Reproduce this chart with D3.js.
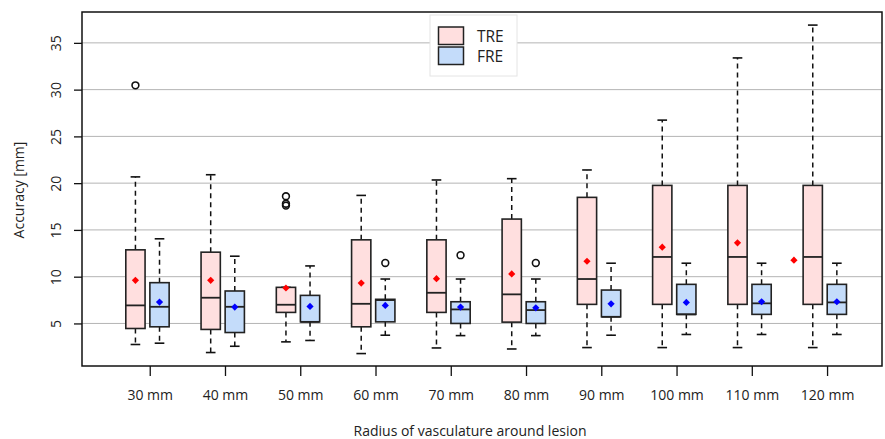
<!DOCTYPE html>
<html>
<head>
<meta charset="utf-8">
<script src="https://cdn.jsdelivr.net/npm/d3@7"></script>
<style>
  body { margin: 0; background: #fff; }
  svg { display: block; font-family: "Open Sans", sans-serif; }
</style>
</head>
<body>
<svg width="885" height="439"></svg>
<script>
const categories = ["30 mm", "40 mm", "50 mm", "60 mm", "70 mm", "80 mm", "90 mm", "100 mm", "110 mm", "120 mm"]
const yTicks = [5, 10, 15, 20, 25, 30, 35]

// TRE boxes
const treLow  = [2.75, 1.89, 3.03, 1.78, 2.38, 2.27, 2.42, 2.42, 2.42, 2.42]
const treQ1   = [4.46, 4.36, 6.18, 4.64, 6.18, 5.14, 7.04, 7.04, 7.04, 7.04]
const treMed  = [6.93, 7.75, 7.0, 7.1, 8.28, 8.11, 9.75, 12.11, 12.11, 12.11]
const treQ3   = [12.87, 12.62, 8.86, 13.94, 13.94, 16.16, 18.48, 19.76, 19.76, 19.76]
const treHigh = [20.67, 20.9, 8.86, 18.69, 20.34, 20.48, 21.41, 26.74, 33.39, 36.9]
const treMean = [9.61, 9.61, 8.79, 9.32, 9.79, 10.29, 11.65, 13.15, 13.62, 11.76]
const treOut  = [[30.46], [], [18.6, 17.8, 17.6], [], [], [], [], [], [], []]

// FRE boxes
const freLow  = [2.89, 2.56, 3.18, 3.74, 3.7, 3.7, 3.74, 3.82, 3.82, 3.82]
const freQ1   = [4.64, 4.03, 5.17, 5.17, 5.0, 5.0, 5.71, 5.97, 5.97, 5.97]
const freMed  = [6.78, 6.78, 5.17, 7.5, 6.5, 6.43, 5.71, 5.97, 7.15, 7.25]
const freQ3   = [9.36, 8.47, 8.0, 7.58, 7.32, 7.32, 8.57, 9.18, 9.18, 9.18]
const freHigh = [14.05, 12.19, 11.15, 9.75, 9.75, 9.75, 11.44, 11.44, 11.44, 11.44]
const freMean = [7.29, 6.75, 6.82, 6.93, 6.75, 6.67, 7.1, 7.25, 7.32, 7.32]
const freOut  = [[], [], [], [11.47], [12.3], [11.47], [], [], [], []]

const pL = 82, pR = 882, pT = 12, pB = 366

const svg = d3.select("svg")

const x = d3.scaleLinear().domain([-0.9, 9.73]).range([pL, pR])
const y = d3.scaleLinear().domain([0.45, 38.3]).range([pB, pT])

// grid
svg.append("g")
    .selectAll("line")
    .data(yTicks)
    .enter()
    .append("line")
    .attr("x1", pL).attr("x2", pR)
    .attr("y1", d => y(d)).attr("y2", d => y(d))
    .attr("stroke", "#b4b4b4")
    .attr("stroke-width", 1)

const series = [
    {name: "TRE", off: -0.19, fill: "#ffdfdf", dot: "#ff0000",
     low: treLow, q1: treQ1, med: treMed, q3: treQ3, high: treHigh, mean: treMean, out: treOut},
    {name: "FRE", off: 0.13, fill: "#c4dcfa", dot: "#0000ff",
     low: freLow, q1: freQ1, med: freMed, q3: freQ3, high: freHigh, mean: freMean, out: freOut}
]

const hw = 0.128  // half box width in category units

series.forEach(s => {
    const rows = categories.map((c, i) => ({
        i, c, low: s.low[i], q1: s.q1[i], med: s.med[i], q3: s.q3[i],
        high: s.high[i], mean: s.mean[i], out: s.out[i]
    }))
    const g = svg.append("g")
    const b = g.selectAll("g").data(rows).enter().append("g")

    // whiskers
    b.append("line")
        .attr("x1", d => x(d.i + s.off)).attr("x2", d => x(d.i + s.off))
        .attr("y1", d => y(d.q3)).attr("y2", d => y(d.high))
        .attr("stroke", "#111").attr("stroke-width", 1.5).attr("stroke-dasharray", "5,4")
    b.append("line")
        .attr("x1", d => x(d.i + s.off)).attr("x2", d => x(d.i + s.off))
        .attr("y1", d => y(d.q1)).attr("y2", d => y(d.low))
        .attr("stroke", "#111").attr("stroke-width", 1.5).attr("stroke-dasharray", "5,4")
    ;["high", "low"].forEach(k => {
        b.append("line")
            .attr("x1", d => x(d.i + s.off - hw / 2)).attr("x2", d => x(d.i + s.off + hw / 2))
            .attr("y1", d => y(d[k])).attr("y2", d => y(d[k]))
            .attr("stroke", "#111").attr("stroke-width", 1.6)
    })

    // box
    b.append("rect")
        .attr("x", d => x(d.i + s.off - hw))
        .attr("width", d => x(d.i + s.off + hw) - x(d.i + s.off - hw))
        .attr("y", d => y(d.q3))
        .attr("height", d => y(d.q1) - y(d.q3))
        .attr("fill", s.fill)
        .attr("stroke", "#222")
        .attr("stroke-width", 1.6)
    b.append("line")
        .attr("x1", d => x(d.i + s.off - hw)).attr("x2", d => x(d.i + s.off + hw))
        .attr("y1", d => y(d.med)).attr("y2", d => y(d.med))
        .attr("stroke", "#222").attr("stroke-width", 1.8)

    // outliers
    b.selectAll("circle")
        .data(d => d.out.map(v => ({i: d.i, v})))
        .enter()
        .append("circle")
        .attr("cx", d => x(d.i + s.off))
        .attr("cy", d => y(d.v))
        .attr("r", 3.4)
        .attr("fill", "none")
        .attr("stroke", "#111")
        .attr("stroke-width", 1.6)

    // means (the 120 mm TRE mean sits left of its box in the original)
    b.append("path")
        .attr("d", d3.symbol(d3.symbolSquare, 26))
        .attr("transform", d => {
            const sh = (s.name === "TRE" && d.c === "120 mm") ? -0.25 : 0
            return `translate(${x(d.i + s.off + sh)},${y(d.mean)}) rotate(45)`
        })
        .attr("fill", s.dot)
})

// frame
svg.append("rect")
    .attr("x", pL).attr("y", pT)
    .attr("width", pR - pL).attr("height", pB - pT)
    .attr("fill", "none").attr("stroke", "#111").attr("stroke-width", 1.5)

// y axis
const yAxis = svg.append("g")
    .attr("transform", `translate(${pL},0)`)
    .call(d3.axisLeft(y).tickValues(yTicks).tickSize(8).tickSizeOuter(0))
yAxis.select(".domain").remove()
yAxis.selectAll(".tick line").attr("stroke", "#111").attr("stroke-width", 1.3)
yAxis.selectAll(".tick text")
    .attr("x", 0).attr("dy", 0)
    .attr("transform", "translate(-21,0) rotate(-90)")
    .attr("text-anchor", "middle")
    .attr("font-size", 14)
    .attr("font-family", "Open Sans, sans-serif")
    .attr("fill", "#222")

// x axis
const xAxis = svg.append("g")
    .attr("transform", `translate(0,${pB})`)
    .call(d3.axisBottom(x).tickValues(d3.range(categories.length))
        .tickFormat(i => categories[i]).tickSize(10).tickSizeOuter(0))
xAxis.select(".domain").remove()
xAxis.selectAll(".tick line").attr("stroke", "#111").attr("stroke-width", 1.3)
xAxis.selectAll(".tick text")
    .attr("y", 24).attr("dy", "0.71em")
    .attr("font-size", 14)
    .attr("font-family", "Open Sans, sans-serif")
    .attr("fill", "#222")

// axis titles
svg.append("text")
    .attr("x", 470).attr("y", 436)
    .attr("text-anchor", "middle")
    .attr("font-size", 14)
    .attr("fill", "#222")
    .text("Radius of vasculature around lesion")
svg.append("text")
    .attr("transform", "translate(24,190) rotate(-90)")
    .attr("text-anchor", "middle")
    .attr("font-size", 14)
    .attr("fill", "#222")
    .text("Accuracy  [mm]")

// legend
const lg = svg.append("g")
lg.append("rect")
    .attr("x", 430).attr("y", 15).attr("width", 87).attr("height", 61)
    .attr("fill", "#fff").attr("stroke", "#e4e4e4")
series.forEach((s, k) => {
    lg.append("rect")
        .attr("x", 438.5).attr("y", 27 + k * 20).attr("width", 25).attr("height", 17.5)
        .attr("fill", s.fill).attr("stroke", "#222").attr("stroke-width", 1.5)
    lg.append("text")
        .attr("x", 477).attr("y", 36 + k * 20).attr("dy", "0.36em")
        .attr("font-size", 15.5).attr("fill", "#222")
        .text(s.name)
})
</script>
</body>
</html>
